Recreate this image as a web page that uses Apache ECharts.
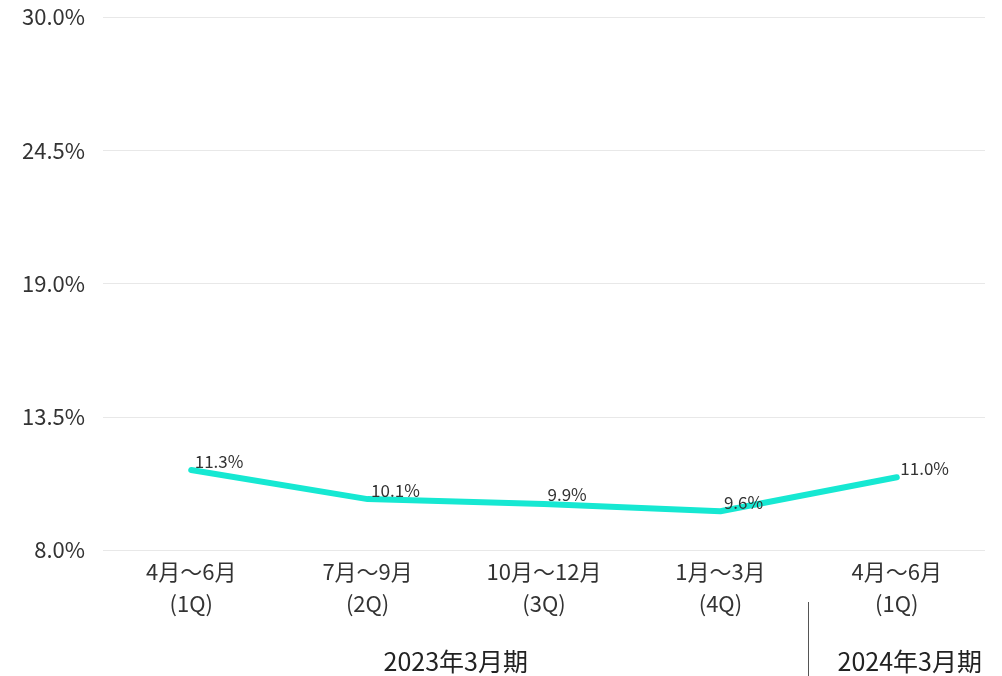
<!DOCTYPE html>
<html><head><meta charset="utf-8">
<script src="https://cdn.jsdelivr.net/npm/echarts@6/dist/echarts.min.js"></script>
<style>html,body{margin:0;padding:0;background:#fff}#c{width:1002px;height:676px}</style>
</head><body><div id="c"></div>
<script>
var categories = ['4月～6月\n(1Q)', '7月～9月\n(2Q)', '10月～12月\n(3Q)', '1月～3月\n(4Q)', '4月～6月\n(1Q)'];
var values = [11.3, 10.1, 9.9, 9.6, 11.0];
var groups = ['2023年3月期', '2024年3月期'];
var groupSpans = [[0, 3], [4, 4]];
var groupShift = [0, 13];
var font = '"Noto Sans CJK JP", "Noto Sans", sans-serif';
var chart = echarts.init(document.getElementById('c'));
chart.setOption({
  animation: false,
  textStyle: {fontFamily: font},
  grid: {left: 103, right: 17, top: 17, bottom: 126},
  xAxis: {
    type: 'category', data: categories,
    axisLine: {show: false}, axisTick: {show: false},
    axisLabel: {fontSize: 22, color: '#333', lineHeight: 32, margin: 6, fontFamily: font}
  },
  yAxis: {
    type: 'value', min: 8, max: 30, interval: 5.5,
    axisLine: {show: false}, axisTick: {show: false},
    splitLine: {lineStyle: {color: '#e8e8e8'}},
    axisLabel: {fontSize: 22, color: '#333', margin: 18, fontFamily: font,
      formatter: function (v) { return v.toFixed(1) + '%'; }}
  },
  series: [{
    type: 'line', data: values, symbol: 'circle', symbolSize: 1, showSymbol: true,
    itemStyle: {color: '#16e8d2'},
    lineStyle: {color: '#16e8d2', width: 6, cap: 'round', join: 'round'},
    label: {show: true, position: 'right', distance: 3, offset: [0, -9],
      fontSize: 17, color: '#333', fontFamily: font,
      formatter: function (p) { return p.value.toFixed(1) + '%'; }}
  }]
});
var els = [];
var y0 = chart.convertToPixel({yAxisIndex: 0}, 8);
groups.forEach(function (g, i) {
  var a = chart.convertToPixel({xAxisIndex: 0}, groupSpans[i][0]);
  var b = chart.convertToPixel({xAxisIndex: 0}, groupSpans[i][1]);
  els.push({type: 'text', x: (a + b) / 2 + groupShift[i], y: y0 + 111,
    style: {text: g, fontSize: 25, fill: '#222', align: 'center', verticalAlign: 'middle', fontFamily: font}});
});
var p3 = chart.convertToPixel({xAxisIndex: 0}, 3);
var p4 = chart.convertToPixel({xAxisIndex: 0}, 4);
var sx = Math.floor((p3 + p4) / 2) + 0.5;
els.push({type: 'line', shape: {x1: sx, y1: y0 + 52, x2: sx, y2: 676},
  style: {stroke: '#555', lineWidth: 1}});
chart.setOption({graphic: els});
</script></body></html>
